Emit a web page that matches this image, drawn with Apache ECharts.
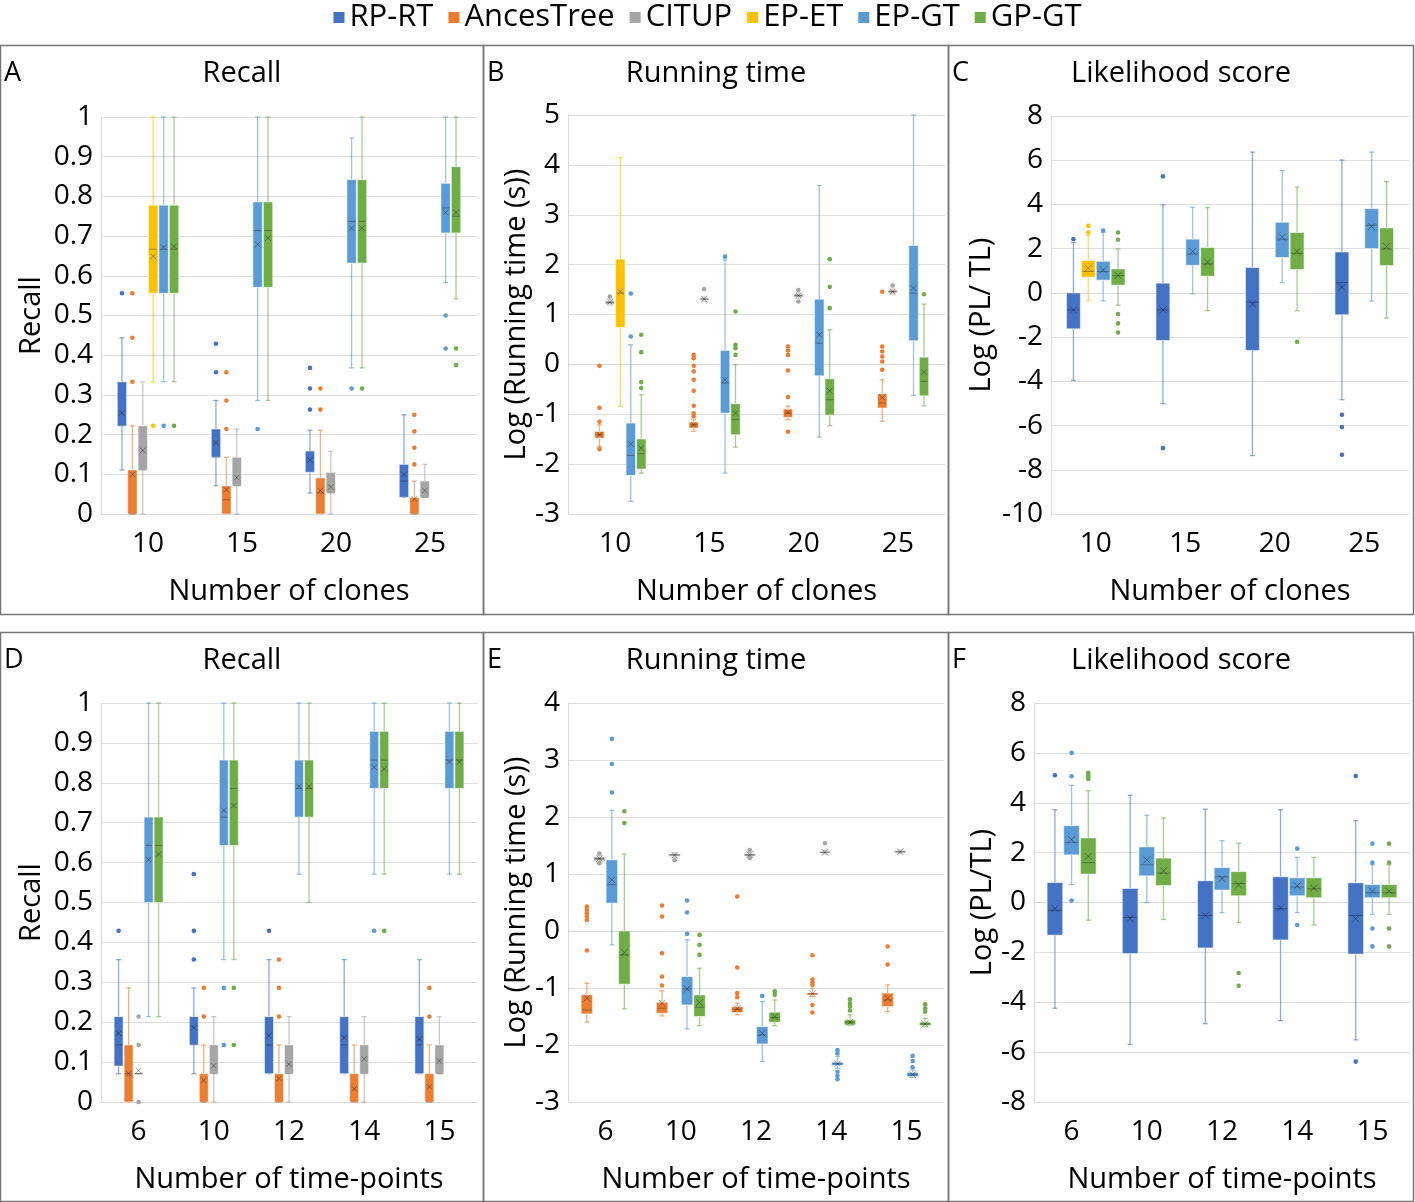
<!DOCTYPE html>
<html>
<head>
<meta charset="utf-8">
<script src="https://cdn.jsdelivr.net/npm/echarts@6/dist/echarts.min.js"></script>
<style>
html,body{margin:0;padding:0;background:#fff;}
#chart{width:1415px;height:1202px;}
</style>
</head>
<body>
<div id="chart"></div>
<script>
// ---------- DATA ----------
// box format: [min whisker, Q1, median, Q3, max whisker, mean]
const seriesNames = ['RP-RT', 'AncesTree', 'CITUP', 'EP-ET', 'EP-GT', 'GP-GT'];
const clonesCats = ['10', '15', '20', '25'];
const timeCats = ['6', '10', '12', '14', '15'];

// Panel A: Recall vs number of clones
const A_RPRT = [[0.111,0.222,0.222,0.333,0.444,0.254],[0.071,0.143,0.143,0.214,0.286,0.180],[0.053,0.105,0.158,0.158,0.211,0.136],[0.042,0.042,0.083,0.125,0.25,0.100]];
const A_RPRT_out = [[0.556],[0.357,0.429],[0.263,0.316,0.368],[]];
const A_ANC = [[0,0,0,0.111,0.222,0.100],[0,0,0.036,0.071,0.143,0.061],[0,0,0.053,0.091,0.211,0.059],[0,0,0,0.042,0.083,0.038]];
const A_ANC_out = [[0.333,0.444,0.556],[0.214,0.286,0.357],[0.263,0.316],[0.125,0.167,0.208,0.25]];
const A_CIT = [[0,0.111,0.111,0.222,0.333,0.160],[0,0.071,0.071,0.143,0.214,0.092],[0,0.053,0.053,0.105,0.158,0.068],[0.042,0.042,0.042,0.083,0.125,0.059]];
const A_CIT_out = [[],[],[],[]];
const A_EPET = [[0.333,0.556,0.667,0.778,1,0.649],null,null,null];
const A_EPET_out = [[0.222],[],[],[]];
const A_EPGT = [[0.333,0.556,0.667,0.778,1,0.672],[0.286,0.571,0.714,0.786,1,0.679],[0.368,0.632,0.737,0.842,0.947,0.72],[0.583,0.708,0.771,0.833,1,0.76]];
const A_EPGT_out = [[0.222],[0.214],[0.316],[0.417,0.5]];
const A_GPGT = [[0.333,0.556,0.667,0.778,1,0.674],[0.286,0.571,0.714,0.786,1,0.695],[0.368,0.632,0.737,0.842,1,0.72],[0.542,0.708,0.75,0.875,1,0.76]];
const A_GPGT_out = [[0.222],[],[0.316],[0.375,0.417]];

// Panel B: Log running time vs number of clones
const B_ANC = [[-1.645,-1.478,-1.41,-1.344,-1.21,-1.41],[-1.34,-1.277,-1.21,-1.157,-1.10,-1.21],[-1.11,-1.063,-0.977,-0.897,-0.84,-0.96],[-1.144,-0.876,-0.776,-0.589,-0.309,-0.663]];
const B_ANC_out = [[-0.03,-0.87,-1.15,-1.70],[0.19,0.125,-0.03,-0.14,-0.31,-0.53,-0.83,-0.98,-1.04],[0.359,0.279,0.19,-0.122,-0.656,-1.351],[1.455,0.359,0.259,0.159,0.059,-0.109]];
const B_CIT = [[1.19,1.21,1.245,1.27,1.31,1.25],[1.27,1.29,1.31,1.33,1.35,1.31],[1.33,1.35,1.38,1.41,1.43,1.38],[1.41,1.43,1.46,1.49,1.51,1.46]];
const B_CIT_out = [[1.36],[1.51],[1.26,1.49],[1.58]];
const B_EPET = [[-0.84,0.74,1.43,2.11,4.145,1.455],null,null,null];
const B_EPET_out = [[],[],[],[]];
const B_EPGT = [[-2.746,-2.225,-1.825,-1.177,0.392,-1.598],[-2.18,-0.977,-0.375,0.279,2.095,-0.309],[-1.457,-0.229,0.426,1.307,3.584,0.593],[-0.623,0.472,1.43,2.382,5,1.53]];
const B_EPGT_out = [[0.56,1.42],[2.16],[],[]];
const B_GPGT = [[-2.18,-2.098,-1.79,-1.497,-0.61,-1.678],[-1.658,-1.41,-1.11,-0.79,-0.008,-0.977],[-1.23,-1.017,-0.709,-0.289,0.693,-0.529],[-0.83,-0.63,-0.342,0.145,1.207,-0.155]];
const B_GPGT_out = [[0.593,0.245,-0.355,-0.476],[1.06,0.392,0.325,0.19],[2.11,1.554,1.127],[1.407]];

// Panel C: Likelihood score vs number of clones
const C_RPRT = [[-3.96,-1.625,-0.77,0,2.276,-0.77],[-5.01,-2.15,-0.77,0.439,3.98,-0.77],[-7.36,-2.60,-0.42,1.146,6.37,-0.50],[-4.83,-0.99,0.47,1.85,6.01,0.26]];
const C_RPRT_out = [[2.43],[5.27,-7.02],[],[-5.51,-6.07,-7.32]];
const C_EPET = [[-0.36,0.71,0.966,1.463,2.6,1.12],null,null,null];
const C_EPET_out = [[2.73,3.03],[],[],[]];
const C_EPGT = [[-0.36,0.574,0.966,1.43,2.74,1.04],[-0.04,1.25,1.76,2.43,3.87,1.87],[0.47,1.60,2.43,3.194,5.53,2.52],[-0.37,2.005,3.06,3.81,6.37,3.0]];
const C_EPGT_out = [[2.82],[],[],[]];
const C_GPGT = [[-0.556,0.35,0.785,1.086,1.99,0.785],[-0.81,0.755,1.31,2.05,3.86,1.39],[-0.81,1.056,1.79,2.73,4.78,1.87],[-1.14,1.237,1.99,2.94,5.03,2.1]];
const C_GPGT_out = [[2.73,2.40,-0.96,-1.38,-1.79],[],[-2.21],[]];

// Panel D: Recall vs number of time-points
const D_RPRT = [[0.071,0.09,0.143,0.214,0.357,0.172],[0.071,0.143,0.143,0.214,0.286,0.186],[0.071,0.071,0.143,0.214,0.357,0.166],[0.071,0.071,0.143,0.214,0.357,0.161],[0.071,0.071,0.143,0.214,0.357,0.158]];
const D_RPRT_out = [[0.429],[0.357,0.429,0.571],[0.429],[],[]];
const D_ANC = [[0,0,0.071,0.143,0.286,0.071],[0,0,0,0.071,0.143,0.054],[0,0,0,0.071,0.143,0.059],[0,0,0,0.071,0.143,0.033],[0,0,0,0.071,0.143,0.038]];
const D_ANC_out = [[],[0.214,0.286],[0.214,0.286,0.357],[],[0.214,0.286]];
const D_CIT = [[0.071,0.071,0.071,0.071,0.071,0.079],[0,0.071,0.071,0.143,0.214,0.091],[0,0.071,0.071,0.143,0.214,0.095],[0,0.071,0.071,0.143,0.214,0.108],[0.071,0.071,0.071,0.143,0.214,0.103]];
const D_CIT_out = [[0,0.143,0.214],[],[],[],[]];
const D_EPGT = [[0.214,0.5,0.643,0.714,1,0.607],[0.357,0.643,0.714,0.857,1,0.731],[0.571,0.714,0.786,0.857,1,0.791],[0.571,0.786,0.857,0.929,1,0.839],[0.571,0.786,0.857,0.929,1,0.852]];
const D_EPGT_out = [[],[0.143,0.286],[],[0.429],[]];
const D_GPGT = [[0.214,0.5,0.643,0.714,1,0.621],[0.357,0.643,0.786,0.857,1,0.743],[0.5,0.714,0.786,0.857,1,0.791],[0.571,0.786,0.857,0.929,1,0.835],[0.571,0.786,0.857,0.929,1,0.852]];
const D_GPGT_out = [[],[0.143,0.286],[],[0.429],[]];

// Panel E: Log running time vs number of time-points
const E_ANC = [[-1.60,-1.455,-1.385,-1.121,-0.916,-1.18],[-1.49,-1.443,-1.355,-1.25,-1.05,-1.267],[-1.472,-1.431,-1.373,-1.326,-1.267,-1.36],[-1.15,-1.12,-1.10,-1.09,-1.004,-1.10],[-1.414,-1.326,-1.21,-1.09,-0.945,-1.18]];
const E_ANC_out = [[0.43,0.371,0.313,0.254,0.196,-0.343],[0.447,0.254,-0.39,-0.80,-0.957],[0.605,-0.641,-1.09,-1.162],[-0.425,-0.85,-0.9,-0.945,-1.297,-1.43],[-0.273,-0.589]];
const E_CIT = [[1.21,1.23,1.27,1.30,1.33,1.27],[1.29,1.31,1.337,1.355,1.37,1.33],[1.30,1.31,1.337,1.355,1.38,1.34],[1.35,1.366,1.38,1.396,1.41,1.38],[1.36,1.37,1.39,1.41,1.42,1.39]];
const E_CIT_out = [[1.36,1.19],[1.24],[1.42,1.28],[1.54],[]];
const E_EPGT = [[-0.243,0.488,0.81,1.249,2.115,0.898],[-1.718,-1.297,-1.016,-0.8,-0.155,-1.016],[-2.29,-1.982,-1.824,-1.677,-1.238,-1.794],[-2.41,-2.36,-2.33,-2.30,-2.20,-2.33],[-2.57,-2.555,-2.52,-2.48,-2.44,-2.52]];
const E_EPGT_out = [[2.43,2.93,3.37],[0.535,0.325,-0.05],[-1.139],[-2.09,-2.15,-2.47,-2.54,-2.60],[-2.19,-2.28,-2.39]];
const E_GPGT = [[-1.367,-0.934,-0.419,0,1.35,-0.378],[-1.66,-1.50,-1.338,-1.121,-0.653,-1.256],[-1.66,-1.60,-1.52,-1.425,-1.21,-1.50],[-1.66,-1.648,-1.60,-1.56,-1.47,-1.60],[-1.68,-1.66,-1.63,-1.60,-1.53,-1.63]];
const E_GPGT_out = [[2.10,1.893],[-0.068,-0.243,-0.419],[-1.06,-1.12],[-1.197,-1.27,-1.326,-1.396],[-1.285,-1.355,-1.414]];

// Panel F: Likelihood score vs number of time-points
const F_RPRT = [[-4.24,-1.31,-0.31,0.80,3.72,-0.24],[-5.69,-2.05,-0.60,0.56,4.30,-0.64],[-4.86,-1.82,-0.52,0.87,3.74,-0.52],[-4.74,-1.5,-0.25,1.03,3.72,-0.22],[-5.51,-2.07,-0.52,0.79,3.28,-0.65]];
const F_RPRT_out = [[5.10],[],[],[],[5.07,-6.38]];
const F_EPGT = [[0.72,1.91,2.41,3.08,4.70,2.52],[0,1.07,1.51,2.23,3.50,1.71],[-0.41,0.50,1.03,1.40,2.48,0.96],[-0.41,0.27,0.62,0.99,1.81,0.67],[-0.48,0.19,0.39,0.72,1.51,0.46]];
const F_EPGT_out = [[6.0,5.06,0.08],[],[],[2.16,-0.9],[2.36,1.60,-1.04,-1.76]];
const F_GPGT = [[-0.71,1.14,1.60,2.59,4.48,1.85],[-0.68,0.68,1.18,1.78,3.39,1.27],[-0.80,0.27,0.76,1.24,2.38,0.70],[-0.9,0.19,0.55,0.99,1.81,0.58],[-0.48,0.19,0.39,0.72,1.51,0.46]];
const F_GPGT_out = [[5.2,5.12,5.03,4.95],[],[-2.83,-3.34],[],[2.36,1.60,-1.04,-1.76]];

// ---------- STYLE / LAYOUT ----------
const COLORS = {'RP-RT':'#4472C4','AncesTree':'#ED7D31','CITUP':'#A5A5A5','EP-ET':'#FFC000','EP-GT':'#5B9BD5','GP-GT':'#70AD47'};
const FONT = '"Open Sans", "Noto Sans", sans-serif';
const TICK_FS = 28, NAME_FS = 29, TITLE_FS = 29, LEGEND_FS = 31;

const panels = [
  {letter:'A', title:'Recall', titleX:242, yName:'Recall', xName:'Number of clones', cats:clonesCats,
   grid:{left:101, top:117, width:376, height:397}, min:0, max:1, interval:0.1, nameGap:55, box:[0,45,483,569],
   slots:[['RP-RT',A_RPRT,A_RPRT_out],['AncesTree',A_ANC,A_ANC_out],['CITUP',A_CIT,A_CIT_out],['EP-ET',A_EPET,A_EPET_out],['EP-GT',A_EPGT,A_EPGT_out],['GP-GT',A_GPGT,A_GPGT_out]]},
  {letter:'B', title:'Running time', titleX:716, yName:'Log (Running time (s))', xName:'Number of clones', cats:clonesCats,
   grid:{left:568, top:115, width:377, height:399}, min:-3, max:5, interval:1, nameGap:37, box:[483,45,465,569],
   slots:[['RP-RT',null,null],['AncesTree',B_ANC,B_ANC_out],['CITUP',B_CIT,B_CIT_out],['EP-ET',B_EPET,B_EPET_out],['EP-GT',B_EPGT,B_EPGT_out],['GP-GT',B_GPGT,B_GPGT_out]]},
  {letter:'C', title:'Likelihood score', titleX:1181, yName:'Log (PL/ TL)', xName:'Number of clones', cats:clonesCats,
   grid:{left:1051, top:116, width:358, height:398}, min:-10, max:8, interval:2, nameGap:55, box:[948,45,465,569],
   slots:[['RP-RT',C_RPRT,C_RPRT_out],['EP-ET',C_EPET,C_EPET_out],['EP-GT',C_EPGT,C_EPGT_out],['GP-GT',C_GPGT,C_GPGT_out]]},
  {letter:'D', title:'Recall', titleX:242, yName:'Recall', xName:'Number of time-points', cats:timeCats,
   grid:{left:101, top:703, width:376, height:399}, min:0, max:1, interval:0.1, nameGap:55, box:[0,632,483,569],
   slots:[['RP-RT',D_RPRT,D_RPRT_out],['AncesTree',D_ANC,D_ANC_out],['CITUP',D_CIT,D_CIT_out],['EP-GT',D_EPGT,D_EPGT_out],['GP-GT',D_GPGT,D_GPGT_out]]},
  {letter:'E', title:'Running time', titleX:716, yName:'Log (Running time (s))', xName:'Number of time-points', cats:timeCats,
   grid:{left:568, top:703, width:376, height:399}, min:-3, max:4, interval:1, nameGap:37, box:[483,632,465,569],
   slots:[['AncesTree',E_ANC,E_ANC_out],['CITUP',E_CIT,E_CIT_out],['EP-GT',E_EPGT,E_EPGT_out],['GP-GT',E_GPGT,E_GPGT_out]]},
  {letter:'F', title:'Likelihood score', titleX:1181, yName:'Log (PL/TL)', xName:'Number of time-points', cats:timeCats,
   grid:{left:1034, top:703, width:376, height:399}, min:-8, max:8, interval:2, nameGap:37, box:[948,632,465,569],
   slots:[['RP-RT',F_RPRT,F_RPRT_out],['EP-GT',F_EPGT,F_EPGT_out],['GP-GT',F_GPGT,F_GPGT_out]]}
];

function hexA(hex, a) {
  const n = parseInt(hex.slice(1), 16);
  return 'rgba(' + (n >> 16 & 255) + ',' + (n >> 8 & 255) + ',' + (n & 255) + ',' + a + ')';
}

function slotGeom(api, cat, slotIdx, nSlots) {
  const band = api.size([1, 0])[0];
  const groupW = band * 0.665;
  const slot = groupW / nSlots;
  const x0 = api.coord([cat, 0])[0];
  return {cx: x0 - groupW / 2 + slot * (slotIdx + 0.5), w: slot - 1};
}

function boxRenderer(slotIdx, nSlots, color) {
  return function (params, api) {
    const cat = api.value(0);
    const g = slotGeom(api, cat, slotIdx, nSlots);
    const cx = g.cx, w = g.w;
    const y = k => api.coord([cat, api.value(k)])[1];
    const yMin = y(1), yQ1 = y(2), yMed = y(3), yQ3 = y(4), yMax = y(5), yMean = y(6);
    const cap = 2.5;
    const wc = hexA(color, 0.6);
    const children = [];
    children.push({type:'line', shape:{x1:cx, y1:yMax, x2:cx, y2:yQ3}, style:{stroke:wc, lineWidth:1.3}});
    children.push({type:'line', shape:{x1:cx, y1:yQ1, x2:cx, y2:yMin}, style:{stroke:wc, lineWidth:1.3}});
    children.push({type:'line', shape:{x1:cx - cap, y1:yMax, x2:cx + cap, y2:yMax}, style:{stroke:wc, lineWidth:1.3}});
    children.push({type:'line', shape:{x1:cx - cap, y1:yMin, x2:cx + cap, y2:yMin}, style:{stroke:wc, lineWidth:1.3}});
    let top = yQ3, h = yQ1 - yQ3;
    if (h < 2) { top = (yQ1 + yQ3) / 2 - 1; h = 2; }
    children.push({type:'rect', shape:{x:cx - w / 2, y:top, width:w, height:h},
      style:{fill:color, stroke:'rgba(255,255,255,0.55)', lineWidth:1}});
    children.push({type:'line', shape:{x1:cx - w / 2 + 1, y1:yMed, x2:cx + w / 2 - 1, y2:yMed},
      style:{stroke:'rgba(0,0,0,0.3)', lineWidth:1}});
    const m = Math.min(3.5, w * 0.3);
    children.push({type:'line', shape:{x1:cx - m, y1:yMean - m, x2:cx + m, y2:yMean + m}, style:{stroke:'rgba(0,0,0,0.35)', lineWidth:1}});
    children.push({type:'line', shape:{x1:cx - m, y1:yMean + m, x2:cx + m, y2:yMean - m}, style:{stroke:'rgba(0,0,0,0.35)', lineWidth:1}});
    return {type:'group', children};
  };
}

function outRenderer(slotIdx, nSlots, color) {
  return function (params, api) {
    const cat = api.value(0);
    const g = slotGeom(api, cat, slotIdx, nSlots);
    const yy = api.coord([cat, api.value(1)])[1];
    return {type:'circle', shape:{cx:g.cx, cy:yy, r:2.3}, style:{fill:color}};
  };
}

const grids = [], xAxes = [], yAxes = [], series = [], graphics = [];
panels.forEach((p, pi) => {
  grids.push(Object.assign({containLabel:false}, p.grid));
  xAxes.push({type:'category', gridIndex:pi, data:p.cats, name:p.xName, nameLocation:'middle', nameGap:63,
    nameTextStyle:{fontSize:NAME_FS, color:'#000', fontFamily:FONT},
    axisLine:{show:true, lineStyle:{color:'#d9d9d9'}}, axisTick:{show:false},
    axisLabel:{fontSize:TICK_FS, color:'#000', fontFamily:FONT, margin:16}, splitLine:{show:false}});
  yAxes.push({type:'value', gridIndex:pi, min:p.min, max:p.max, interval:p.interval, name:p.yName,
    nameLocation:'middle', nameGap:p.nameGap, nameTextStyle:{fontSize:NAME_FS, color:'#000', fontFamily:FONT},
    axisLine:{show:true, lineStyle:{color:'#d9d9d9'}}, axisTick:{show:false},
    axisLabel:{fontSize:TICK_FS, color:'#000', fontFamily:FONT, margin:8, formatter: v => String(+v.toFixed(2))},
    splitLine:{show:true, lineStyle:{color:'#dedede', width:1}}});
  const n = p.slots.length;
  p.slots.forEach((s, si) => {
    const name = s[0], boxes = s[1], outs = s[2];
    const color = COLORS[name];
    if (!boxes) return;
    const bdata = [];
    boxes.forEach((b, ci) => { if (b) bdata.push([ci].concat(b)); });
    series.push({type:'custom', name, xAxisIndex:pi, yAxisIndex:pi, itemStyle:{color},
      renderItem: boxRenderer(si, n, color), data:bdata, encode:{x:0, y:[1,2,3,4,5,6]}, silent:true, z:3});
    const odata = [];
    (outs || []).forEach((arr, ci) => arr.forEach(v => odata.push([ci, v])));
    if (odata.length) {
      series.push({type:'custom', name, xAxisIndex:pi, yAxisIndex:pi, itemStyle:{color},
        renderItem: outRenderer(si, n, color), data:odata, encode:{x:0, y:1}, silent:true, z:4});
    }
  });
  const [bx, by, bw, bh] = p.box;
  graphics.push({type:'rect', shape:{x:bx + 0.5, y:by + 0.5, width:bw, height:bh}, style:{fill:'none', stroke:'#767676', lineWidth:1.5}, silent:true});
  graphics.push({type:'text', x:bx + 4, y:by + 28, style:{text:p.letter, font:'27px ' + FONT, fill:'#000', textVerticalAlign:'middle'}});
  graphics.push({type:'text', x:p.titleX, y:by + 29, style:{text:p.title, font:TITLE_FS + 'px ' + FONT, fill:'#000', textAlign:'center', textVerticalAlign:'middle'}});
});

const chart = echarts.init(document.getElementById('chart'), null, {renderer:'canvas'});
chart.setOption({
  animation:false,
  backgroundColor:'#fff',
  legend:{data:seriesNames, top:-3, left:'center', icon:'rect', itemWidth:11, itemHeight:11, itemGap:15,
    textStyle:{fontSize:LEGEND_FS, color:'#000', fontFamily:FONT}, selectedMode:false},
  grid:grids, xAxis:xAxes, yAxis:yAxes, series, graphic:graphics
});
</script>
</body>
</html>
